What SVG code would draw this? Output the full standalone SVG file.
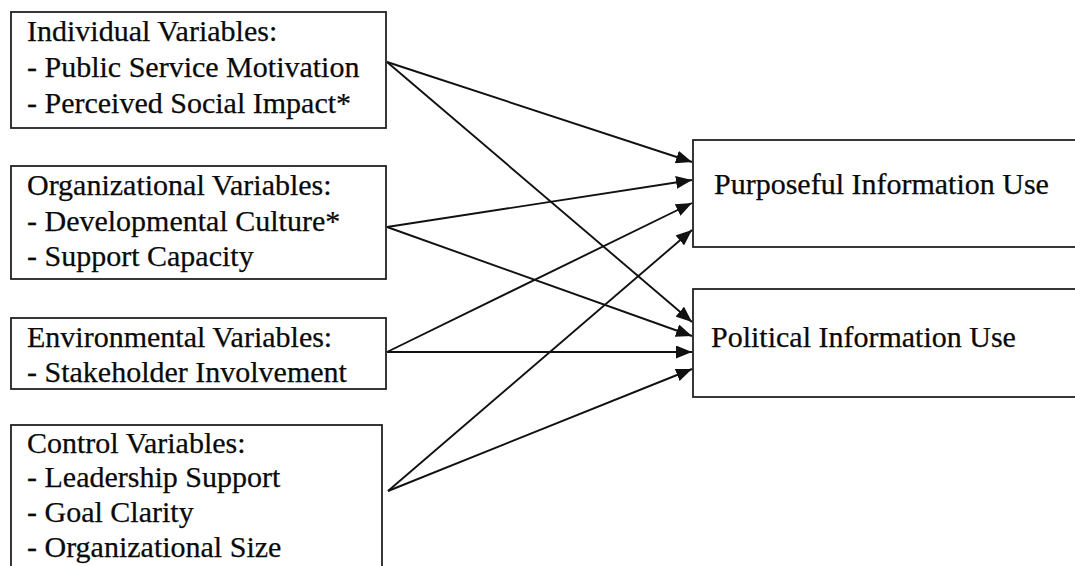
<svg xmlns="http://www.w3.org/2000/svg" width="1075" height="566" viewBox="0 0 1075 566">
  <style>
    .box { fill: #ffffff; stroke: #222222; stroke-width: 1.8; }
    .lbl { font-family: "Liberation Serif", "Times New Roman", serif; font-size: 30px; fill: #0a0a0a; stroke: #0a0a0a; stroke-width: 0.25; }
    .edge { stroke: #111111; stroke-width: 1.9; fill: none; marker-end: url(#arrow); }
  </style>
  <defs>
    <marker id="arrow" markerUnits="userSpaceOnUse" markerWidth="17" markerHeight="13" refX="16" refY="6.5" orient="auto">
      <path d="M0,0 L16,6.5 L0,13 Z" fill="#111111"/>
    </marker>
  </defs>
  <rect width="1075" height="566" fill="#ffffff"/>

  <!-- predictor groups -->
  <g id="individual">
    <rect class="box" x="11" y="12" width="375" height="116"/>
    <text class="lbl" x="27" y="41">Individual Variables:</text>
    <text class="lbl" x="27" y="77">- Public Service Motivation</text>
    <text class="lbl" x="27" y="113">- Perceived Social Impact*</text>
  </g>
  <g id="organizational">
    <rect class="box" x="11" y="166" width="375" height="113"/>
    <text class="lbl" x="27" y="195">Organizational Variables:</text>
    <text class="lbl" x="27" y="231">- Developmental Culture*</text>
    <text class="lbl" x="27" y="266">- Support Capacity</text>
  </g>
  <g id="environmental">
    <rect class="box" x="11" y="318" width="375" height="71"/>
    <text class="lbl" x="27" y="347">Environmental Variables:</text>
    <text class="lbl" x="27" y="382">- Stakeholder Involvement</text>
  </g>
  <g id="control">
    <rect class="box" x="11" y="425" width="371" height="150"/>
    <text class="lbl" x="27" y="453">Control Variables:</text>
    <text class="lbl" x="27" y="487">- Leadership Support</text>
    <text class="lbl" x="27" y="522">- Goal Clarity</text>
    <text class="lbl" x="27" y="557">- Organizational Size</text>
  </g>

  <!-- outcomes -->
  <g id="purposeful">
    <rect class="box" x="693" y="140" width="400" height="107"/>
    <text class="lbl" x="714" y="194">Purposeful Information Use</text>
  </g>
  <g id="political">
    <rect class="box" x="693" y="289" width="400" height="108"/>
    <text class="lbl" x="711" y="347">Political Information Use</text>
  </g>

  <!-- paths -->
  <g id="connectors">
    <line class="edge" x1="387" y1="62" x2="692" y2="162"/>
    <line class="edge" x1="387" y1="62" x2="692" y2="322"/>
    <line class="edge" x1="387" y1="227" x2="692" y2="180"/>
    <line class="edge" x1="387" y1="227" x2="692" y2="336"/>
    <line class="edge" x1="387" y1="352" x2="692" y2="203"/>
    <line class="edge" x1="387" y1="352" x2="692" y2="352"/>
    <line class="edge" x1="388" y1="491" x2="692" y2="230"/>
    <line class="edge" x1="388" y1="491" x2="692" y2="369"/>
  </g>
</svg>
